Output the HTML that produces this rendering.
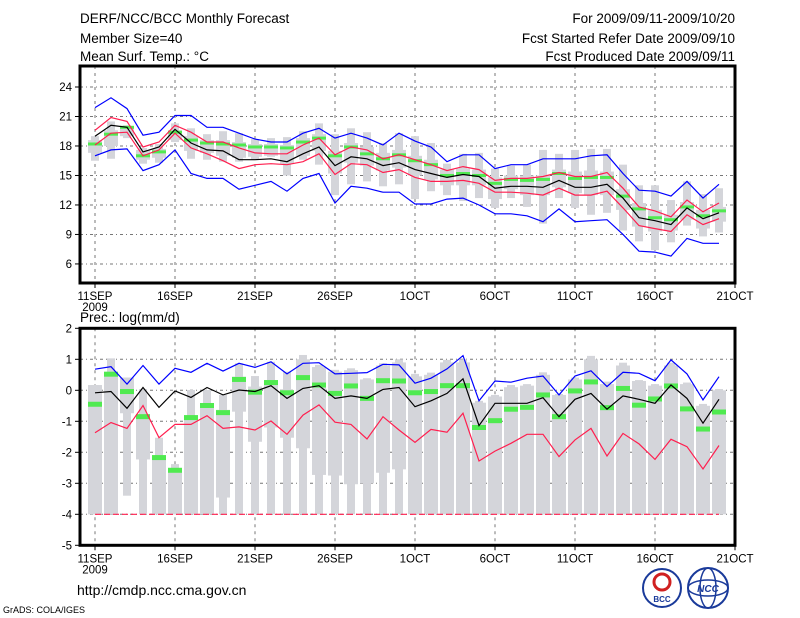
<!DOCTYPE html>
<html><head><meta charset="utf-8"><style>
body{margin:0;background:#fff;}
svg{display:block;font-family:"Liberation Sans",sans-serif;}
</style></head><body>
<svg id="c" width="800" height="618" viewBox="0 0 800 618" xmlns="http://www.w3.org/2000/svg">
<rect width="800" height="618" fill="#fff"/>
<g font-size="13.5" fill="#000">
<text x="80" y="23">DERF/NCC/BCC Monthly Forecast</text>
<text x="80" y="43">Member Size=40</text>
<text x="80" y="61">Mean Surf. Temp.: °C</text>
<text x="735" y="23" text-anchor="end">For 2009/09/11-2009/10/20</text>
<text x="735" y="43" text-anchor="end">Fcst Started Refer Date 2009/09/10</text>
<text x="735" y="61" text-anchor="end">Fcst Produced Date 2009/09/11</text>
<text x="80" y="322">Prec.: log(mm/d)</text>
<text x="77" y="595" font-size="14">http://cmdp.ncc.cma.gov.cn</text>
<text x="3" y="613" font-size="9">GrADS: COLA/IGES</text>
</g>
<g>
<circle cx="662" cy="588" r="19" fill="#fff" stroke="#1a3a9a" stroke-width="2"/>
<circle cx="662" cy="582" r="8" fill="none" stroke="#d02020" stroke-width="3"/>
<text x="662" y="602" font-size="8" text-anchor="middle" fill="#1a3a9a" font-weight="bold">BCC</text>
</g>
<g>
<circle cx="708" cy="588" r="20" fill="#fff" stroke="#1a3a9a" stroke-width="2"/>
<ellipse cx="708" cy="588" rx="20" ry="8" fill="none" stroke="#1a3a9a" stroke-width="1.5"/>
<ellipse cx="708" cy="588" rx="8" ry="20" fill="none" stroke="#1a3a9a" stroke-width="1.5"/>
<text x="708" y="592" font-size="10" text-anchor="middle" fill="#1a3a9a" font-weight="bold" font-style="italic">NCC</text>
</g>
<g id="top"></g>
<g id="bot"></g>
</svg>
<script>
// ---- Temperature panel data ----
const days = ["11SEP","16SEP","21SEP","26SEP","1OCT","6OCT","11OCT","16OCT","21OCT"];
const tTicks = [6,9,12,15,18,21,24];
const tMax = [19.0,20.5,20.1,17.8,18.2,20.3,19.8,19.2,19.5,19.3,18.7,18.8,18.9,19.5,20.3,19.2,19.8,19.4,18.3,19.3,19.0,18.3,16.2,17.2,17.3,15.7,16.0,16.1,17.6,17.2,17.6,17.7,17.7,16.1,14.0,14.0,12.5,14.4,13.1,13.7];
const tMin = [16.5,16.7,18.8,16.2,16.3,18.4,16.7,16.6,16.4,16.4,16.6,16.9,15.0,16.6,16.1,13.0,14.1,14.4,13.9,14.1,12.6,13.4,13.0,12.4,12.7,11.7,12.7,11.8,10.1,12.7,11.7,11.0,11.2,9.4,8.3,7.4,8.2,9.9,8.8,9.2];
const tBoxHi = [18.6,19.6,20.0,17.6,17.7,19.6,19.0,18.6,18.6,18.4,18.2,18.2,18.1,18.8,19.2,17.5,18.3,17.9,17.3,17.6,17.0,16.6,15.6,15.7,15.6,14.8,15.0,15.0,15.0,15.6,15.4,15.5,15.4,13.6,12.2,11.5,11.0,12.3,11.5,11.8];
const tBoxLo = [17.3,18.0,19.0,16.6,16.8,18.6,17.5,17.3,17.0,16.8,16.9,17.0,16.2,17.0,17.5,15.2,16.3,16.0,15.5,15.8,15.0,14.6,14.0,14.0,14.0,12.6,13.6,13.0,13.0,13.8,13.2,13.0,13.0,11.5,9.8,9.3,9.4,10.5,9.6,10.3];
const tBlueHi = [21.9,22.9,21.8,19.1,19.4,21.1,21.1,19.9,19.9,19.3,18.7,18.4,18.4,19.3,19.8,18.8,19.3,18.8,18.1,19.3,18.5,17.9,16.4,17.1,17.1,15.7,16.1,16.1,16.7,16.7,16.7,17.0,17.1,15.2,13.5,13.4,12.9,14.4,12.7,14.1];
const tRedHi = [19.6,20.9,20.5,17.9,18.4,20.1,19.4,18.4,18.4,17.8,17.3,17.2,17.2,18.1,18.8,17.1,17.9,17.6,16.7,17.1,16.6,16.1,15.5,15.9,15.6,14.5,14.7,14.7,14.9,15.3,14.9,14.9,15.3,13.7,11.8,11.4,10.8,12.5,11.3,12.2];
const tMean = [19.0,20.1,19.9,17.4,17.9,19.7,18.3,17.6,17.5,16.6,16.6,16.7,16.4,17.2,17.9,16.0,16.9,16.7,16.0,16.3,15.6,15.2,14.8,15.1,14.9,13.7,13.9,13.9,13.8,14.5,13.8,13.8,14.1,12.7,10.7,10.4,10.0,11.7,10.6,11.2];
const tRedLo = [18.1,19.3,19.4,17.0,17.6,19.3,17.8,17.2,16.5,15.7,16.1,16.2,16.1,16.4,17.2,15.1,16.2,16.1,15.3,15.6,14.8,14.4,14.4,14.5,14.2,13.3,13.3,13.2,13.0,13.7,13.0,13.0,13.4,11.7,9.9,9.6,9.3,11.0,10.0,10.6];
const tBlueLo = [17.0,17.6,17.7,15.5,16.1,17.6,15.2,14.7,14.7,13.6,14.0,14.4,13.4,14.7,15.2,12.2,13.9,13.7,13.3,13.3,12.1,12.1,12.6,12.7,12.0,11.1,11.1,10.9,10.3,11.6,10.3,10.4,10.5,9.0,7.3,7.2,6.8,8.6,8.1,8.1];
const tGreen = [18.2,19.2,19.9,17.0,17.4,19.4,18.6,18.3,18.2,18.1,17.9,17.9,17.8,18.4,18.8,17.0,17.9,17.2,16.7,17.1,16.5,16.1,15.0,15.2,15.0,14.2,14.6,14.5,14.6,15.2,14.7,14.8,14.8,12.9,11.6,10.7,10.5,11.8,10.9,11.4];
// ---- Precipitation panel data ----
const pTicks = [-5,-4,-3,-2,-1,0,1,2];
const pMax = [0.17,1.03,0.41,0.04,-1.53,-2.38,0.01,0.01,-0.15,0.87,0.46,0.92,0.6,1.14,0.82,0.66,0.71,0.39,0.87,1.0,0.53,0.57,0.98,1.0,-0.34,-0.15,0.17,0.2,0.58,-0.12,0.41,1.11,0.28,0.89,0.33,0.2,0.89,0.25,-0.44,0.04];
const pBoxHi = [0.17,0.55,0.41,-0.8,-2.14,-2.52,-0.85,-0.42,-0.63,0.44,0.12,0.33,0.01,1.0,0.75,0.6,0.65,0.35,0.8,0.9,0.45,0.5,0.9,0.9,-0.4,-0.2,0.1,0.15,0.5,-0.15,0.35,1.0,0.2,0.8,0.3,0.15,0.8,0.2,-0.5,0.0];
const pBoxLo = [-4,-4,-0.74,-2.23,-4,-4,-4,-4,-3.46,-0.69,-1.66,-1.2,-1.53,-1.87,-2.73,-2.75,-3.03,-3.0,-2.66,-2.55,-4,-4,-4,-4,-4,-4,-4,-4,-4,-4,-4,-4,-4,-4,-4,-4,-4,-4,-4,-4];
const pMin = [-4,-4,-3.4,-4,-4,-4,-4,-4,-4,-4,-4,-4,-4,-4,-4,-4,-4,-4,-4,-4,-4,-4,-4,-4,-4,-4,-4,-4,-4,-4,-4,-4,-4,-4,-4,-4,-4,-4,-4,-4];
const pBlue = [0.68,0.76,0.2,0.8,0.2,0.71,0.58,0.87,0.62,0.87,0.74,0.92,0.53,0.87,0.89,0.53,0.55,0.57,0.84,0.82,0.23,0.39,0.69,1.12,-0.34,0.3,0.26,0.39,0.46,-0.15,0.46,0.63,0.12,0.58,0.55,0.31,0.98,0.53,-0.31,0.44];
const pMean = [-0.08,-0.04,-0.58,0.09,-0.55,-0.02,-0.23,0.09,-0.15,0.01,-0.04,0.15,-0.26,0.06,0.15,-0.26,-0.18,-0.26,0.03,0.09,-0.53,-0.34,-0.1,0.37,-1.14,-0.42,-0.42,-0.42,-0.24,-0.85,-0.29,-0.1,-0.61,-0.18,-0.29,-0.42,0.17,-0.26,-1.06,-0.29];
const pRed = [-1.37,-1.04,-1.23,-0.49,-1.53,-1.1,-1.1,-0.82,-1.23,-1.18,-1.28,-0.99,-1.42,-0.8,-0.47,-1.03,-1.1,-1.57,-0.85,-1.28,-1.68,-1.26,-1.35,-0.74,-2.28,-1.96,-1.71,-1.42,-1.42,-2.14,-1.6,-1.23,-2.12,-1.39,-1.73,-2.23,-1.58,-1.82,-2.54,-1.78];
const pGreen = [-0.45,0.52,-0.04,-0.85,-2.17,-2.58,-0.88,-0.49,-0.72,0.35,-0.06,0.25,-0.08,0.41,0.17,-0.1,0.14,-0.26,0.31,0.3,-0.08,-0.04,0.15,0.15,-1.2,-0.98,-0.61,-0.55,-0.15,-0.85,-0.02,0.27,-0.56,0.06,-0.48,-0.28,0.14,-0.6,-1.25,-0.7];
const pFloor = -4;

const NS = "http://www.w3.org/2000/svg";
const X0 = 95, DX = 16, L = 80, R = 735;
function xd(i){ return X0 + DX*i; }
function yT(v){ return 87 + (24 - v)*9.83; }
function yP(v){ return 390.3 - v*31; }
function mk(parent, tag, attrs){
  const e = document.createElementNS(NS, tag);
  for (const k in attrs) e.setAttribute(k, attrs[k]);
  parent.appendChild(e); return e;
}
function panel(g, yf, top, bot, ticks, tickFmt, prefix){
  for (const t of ticks){
    const y = yf(t);
    if (y > top+2 && y < bot-2){
      const gl = mk(g,'line',{x1:L,x2:R,y1:y,y2:y,stroke:'#777','stroke-dasharray':'3,3,1,3','stroke-width':1});
      
      
    }
    const tk = mk(g,'line',{x1:L-5,x2:L,y1:y,y2:y,stroke:'#000','stroke-width':1});
    
    
    const tx = mk(g,'text',{x:L-8,y:y+4,'text-anchor':'end','font-size':11.5});
    tx.textContent = tickFmt(t);
    
    
  }
  days.forEach((d,k)=>{
    const x = xd(k*5);
    if (k < days.length-1){
      const vl = mk(g,'line',{x1:x,x2:x,y1:top,y2:bot,stroke:'#777','stroke-dasharray':'3,4','stroke-width':1});
      
      
    }
    const tk = mk(g,'line',{x1:x,x2:x,y1:bot,y2:bot+5,stroke:'#000'});
    
    
    const tx = mk(g,'text',{x:x,y:bot+17,'text-anchor':'middle','font-size':11.5});
    tx.textContent = d;
    
    
  });
  const yr = mk(g,'text',{x:X0,y:bot+28,'text-anchor':'middle','font-size':11.5});
  yr.textContent = '2009';
  
  
}
function bars(g, yf, mx, mn, bh, bl, prefix){
  for (let i=0;i<mx.length;i++){
    const x = xd(i);
    const n = mk(g,'rect',{x:x-4,y:yf(mx[i]),width:8,height:Math.max(0,yf(mn[i])-yf(mx[i])),fill:'#d4d5da'});
    
    
    const b = mk(g,'rect',{x:x-7,y:yf(bh[i]),width:14,height:Math.max(0,yf(bl[i])-yf(bh[i])),fill:'#d4d5da'});
    
    
  }
}
function line(g, yf, arr, color, name, dash){
  const p = mk(g,'polyline',{points:arr.map((v,i)=>xd(i)+','+yf(v).toFixed(1)).join(' '),fill:'none',stroke:color,'stroke-width':1.2});
  if (dash) p.setAttribute('stroke-dasharray', dash);
  
  
}
function greens(g, yf, arr, h, prefix){
  arr.forEach((v,i)=>{
    const r = mk(g,'rect',{x:xd(i)-7,y:yf(v)-h/2,width:14,height:h,fill:'#50ea50'});
    
    
  });
}
function frame(g, top, bot, prefix){
  const f = mk(g,'rect',{x:L,y:top,width:R-L,height:bot-top,fill:'none',stroke:'#000','stroke-width':3});
  
  
}
const gt = document.getElementById('top');


const tTop = 66, tBot = 283;
panel(gt, yT, tTop, tBot, tTicks, v=>String(v), 'temp');
bars(gt, yT, tMax, tMin, tBoxHi, tBoxLo, 'temp');
greens(gt, yT, tGreen, 3, 'temp');
line(gt, yT, tBlueHi, '#0000ff', 'temp-upper-blue-line');
line(gt, yT, tBlueLo, '#0000ff', 'temp-lower-blue-line');
line(gt, yT, tRedHi, '#ff1f4f', 'temp-upper-red-line');
line(gt, yT, tRedLo, '#ff1f4f', 'temp-lower-red-line');
line(gt, yT, tMean, '#000000', 'temp-mean-line');
frame(gt, tTop, tBot, 'temp');
const gb = document.getElementById('bot');


const pTop = yP(2), pBot = yP(-5);
panel(gb, yP, pTop, pBot, pTicks, v=>String(v), 'precip');
bars(gb, yP, pMax, pMin, pBoxHi, pBoxLo, 'precip');
line(gb, yP, pMin.map(()=>pFloor), '#ff1f4f', 'precip-floor-red-line', '6,3');
greens(gb, yP, pGreen, 5, 'precip');
line(gb, yP, pBlue, '#0000ff', 'precip-upper-blue-line');
line(gb, yP, pRed, '#ff1f4f', 'precip-lower-red-line');
line(gb, yP, pMean, '#000000', 'precip-mean-line');
frame(gb, pTop, pBot, 'precip');
</script>
</body></html>
